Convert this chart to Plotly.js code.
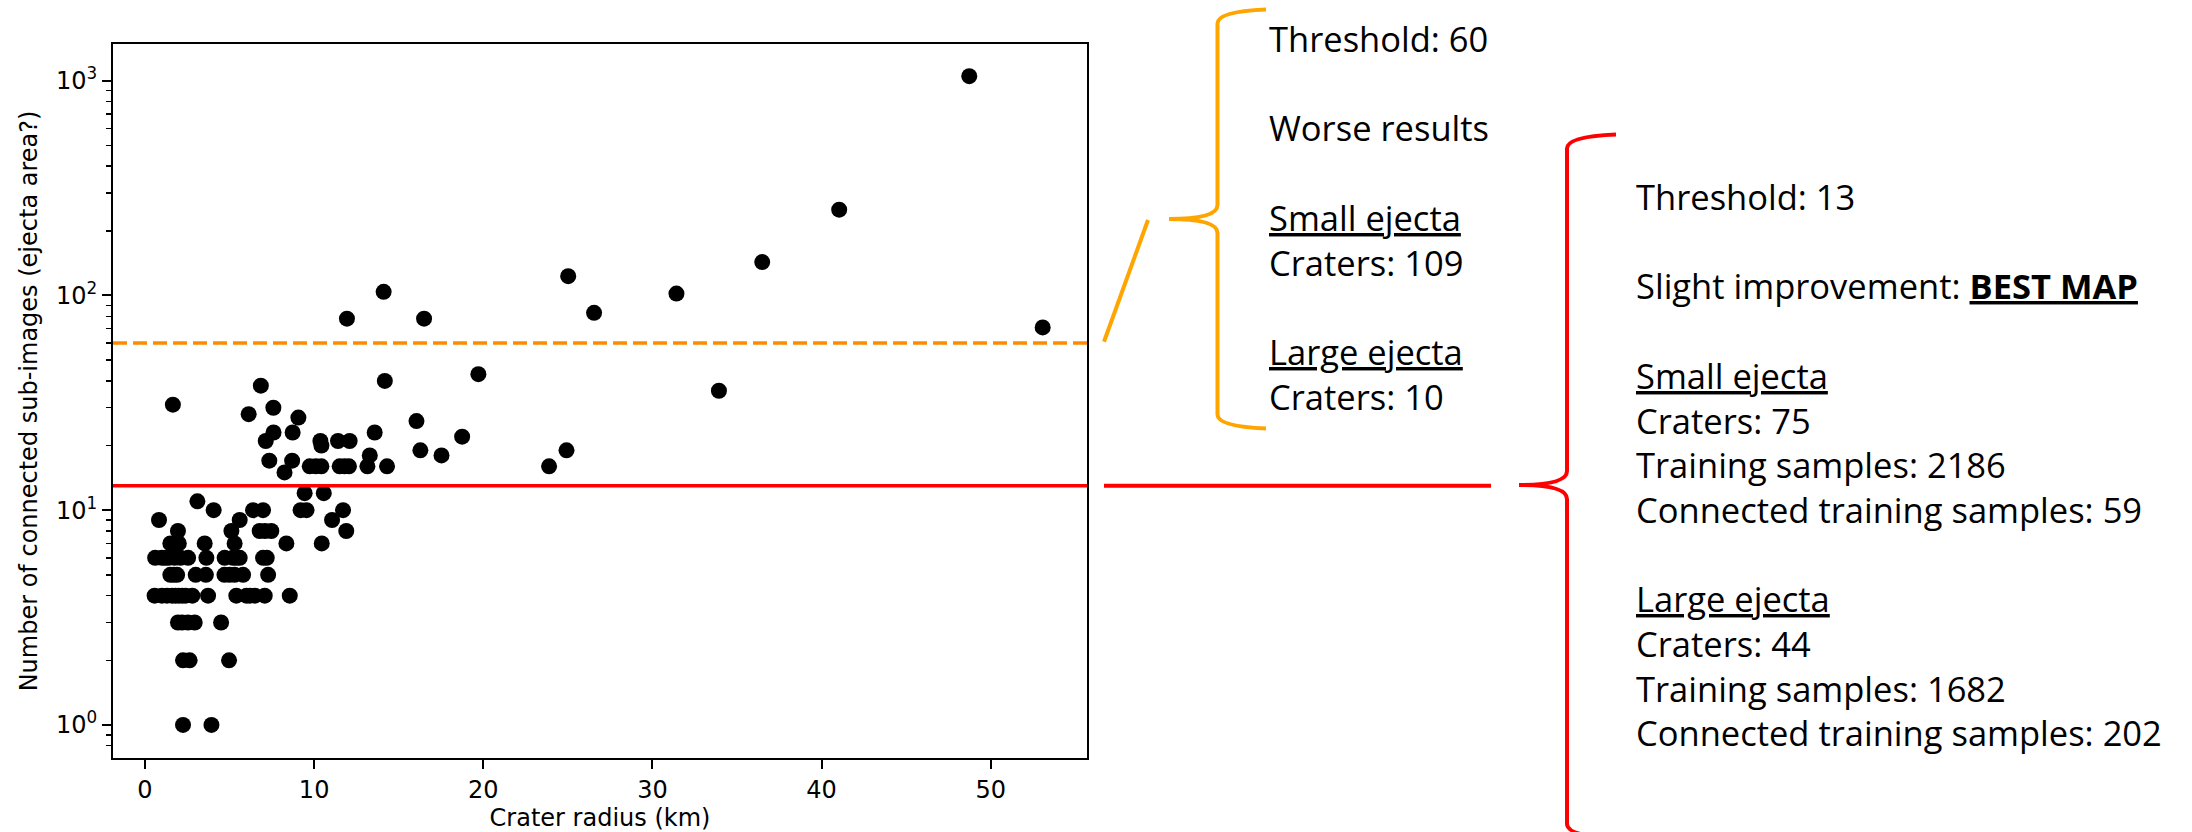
<!DOCTYPE html>
<html>
<head>
<meta charset="utf-8">
<script src="https://cdn.plot.ly/plotly-3.0.1.min.js"></script>
<style>
html,body{margin:0;padding:0;background:#ffffff;}
#chart{width:2192px;height:832px;}
</style>
</head>
<body>
<div id="chart"></div>
<script>
// ---------------- data ----------------
const radiusKm = [
  48.73, 41.04, 36.49, 31.42, 25.02, 26.55, 53.07, 11.94, 14.11, 16.5,
  1.65, 6.85, 6.13, 7.59, 9.07, 7.6, 8.73, 7.14, 7.35, 8.25, 8.7, 10.37, 10.43, 11.41, 12.1,
  9.74, 10.1, 10.43, 11.51, 11.8, 12.06, 13.15, 13.29, 13.58, 14.31, 14.18, 19.71, 16.05, 16.28,
  17.53, 18.75, 23.89, 24.92, 33.93,
  9.44, 10.57,
  3.1,
  4.06, 9.2, 9.55, 11.71, 6.39, 6.98,
  0.83, 5.6, 11.06,
  1.95, 5.11, 6.78, 7.47, 11.9, 7.1,
  1.5, 2.0, 1.75, 3.53, 5.3, 8.36, 10.45,
  0.6, 1.0, 1.2, 1.4, 1.76, 2.1, 2.55, 3.63, 4.71, 5.2, 5.4, 5.6, 6.98, 7.2,
  1.5, 1.7, 1.9, 3.0, 3.6, 4.7, 5.0, 5.3, 5.8, 7.28,
  0.57, 1.0, 1.3, 1.6, 1.8, 2.0, 2.2, 2.4, 2.8, 3.73, 5.4, 6.0, 6.2, 6.5, 7.08, 8.56,
  1.95, 2.2, 2.54, 2.94, 4.5,
  2.25, 2.64, 4.97,
  2.25, 3.93
];
const subImages = [
  1050, 251, 143, 102, 123, 83, 71, 78, 104, 78,
  31, 38, 28, 30, 27, 23, 23, 21, 17, 15, 17, 21, 20, 21, 21,
  16, 16, 16, 16, 16, 16, 16, 18, 23, 16, 40, 43, 26, 19,
  18, 22, 16, 19, 36,
  12, 12,
  11,
  10, 10, 10, 10, 10, 10,
  9, 9, 9,
  8, 8, 8, 8, 8, 8,
  7, 7, 7, 7, 7, 7, 7,
  6, 6, 6, 6, 6, 6, 6, 6, 6, 6, 6, 6, 6, 6,
  5, 5, 5, 5, 5, 5, 5, 5, 5, 5,
  4, 4, 4, 4, 4, 4, 4, 4, 4, 4, 4, 4, 4, 4, 4, 4,
  3, 3, 3, 3, 3,
  2, 2, 2,
  1, 1
];
const thresholdHigh = 60;   // orange dashed
const thresholdLow = 13;    // red solid

const xTickVals = [0, 10, 20, 30, 40, 50];
const yTickVals = [1, 10, 100, 1000];
const yTickText = ['10<sup>0</sup>', '10<sup>1</sup>', '10<sup>2</sup>', '10<sup>3</sup>'];
const yMinorVals = [0.8, 0.9, 2, 3, 4, 5, 6, 7, 8, 9, 20, 30, 40, 50, 60, 70, 80, 90,
                    200, 300, 400, 500, 600, 700, 800, 900];

const xTitle = 'Crater radius (km)';
const yTitle = 'Number of connected sub-images (ejecta area?)';

const orangeLines = [
  'Threshold: 60', '', 'Worse results', '',
  '<u>Small ejecta</u>', 'Craters: 109', '',
  '<u>Large ejecta</u>', 'Craters: 10'
];
const redLines = [
  'Threshold: 13', '', 'Slight improvement: <b><u>BEST MAP</u></b>', '',
  '<u>Small ejecta</u>', 'Craters: 75', 'Training samples: 2186', 'Connected training samples: 59', '',
  '<u>Large ejecta</u>', 'Craters: 44', 'Training samples: 1682', 'Connected training samples: 202'
];

// ---------------- layout geometry ----------------
const W = 2192, H = 832;
const M = {l: 113, r: W - 1087, t: 44, b: H - 758};
const PW = W - M.l - M.r, PH = H - M.t - M.b;
const px = X => (X - M.l) / PW;          // pixel -> paper x
const py = Y => (M.t + PH - Y) / PH;     // pixel -> paper y

const ORANGE = '#FFA500';
const RED = '#FF0000';

function pathFrom(pts) {
  return pts.map(p => p[0] + p.slice(1).reduce((s, v, i) => s + (i ? (i % 2 ? ',' : ' ') : '') + (i % 2 ? py(v) : px(v)), '')).join(' ');
}
function brace(xv, xEnd, yTop, yMid, yBot, xTip, r) {
  return pathFrom([
    ['M', xEnd, yTop],
    ['Q', xv, yTop + 2, xv, yTop + r],
    ['L', xv, yMid - r],
    ['Q', xv, yMid, xTip, yMid],
    ['Q', xv, yMid, xv, yMid + r],
    ['L', xv, yBot - r],
    ['Q', xv, yBot - 2, xEnd, yBot]
  ]);
}

const shapes = [
  {type: 'line', xref: 'paper', yref: 'y', x0: 0, x1: 1, y0: thresholdHigh, y1: thresholdHigh,
   line: {color: '#FF8C00', width: 3.5, dash: '14px,6px'}},
  {type: 'line', xref: 'paper', yref: 'y', x0: 0, x1: 1, y0: thresholdLow, y1: thresholdLow,
   line: {color: RED, width: 3.4}},
  {type: 'line', xref: 'paper', yref: 'y', x0: px(1104), x1: px(1491), y0: thresholdLow, y1: thresholdLow,
   line: {color: RED, width: 4}},
  {type: 'line', xref: 'paper', yref: 'paper', x0: px(1104), y0: py(341.7), x1: px(1148), y1: py(220),
   line: {color: ORANGE, width: 4}},
  {type: 'path', xref: 'paper', yref: 'paper', path: brace(1217.5, 1266, 9.5, 219, 428.5, 1169, 14),
   line: {color: ORANGE, width: 4}},
  {type: 'path', xref: 'paper', yref: 'paper', path: brace(1567, 1616, 134.5, 485, 838, 1519, 14),
   line: {color: RED, width: 4}}
];

const textFont = {family: '"Open Sans", Roboto, sans-serif', size: 34.5, color: '#000000'};
const annotations = [];
orangeLines.forEach((t, i) => {
  if (!t) return;
  annotations.push({xref: 'paper', yref: 'paper', x: px(1267), y: py(38.3 + i * 44.8),
    xanchor: 'left', yanchor: 'middle', showarrow: false, text: t, font: textFont, align: 'left'});
});
redLines.forEach((t, i) => {
  if (!t) return;
  annotations.push({xref: 'paper', yref: 'paper', x: px(1634), y: py(196.5 + i * 44.7),
    xanchor: 'left', yanchor: 'middle', showarrow: false, text: t, font: textFont, align: 'left'});
});

const axisFont = {family: '"DejaVu Sans", sans-serif', size: 24, color: '#000000'};

const trace = {
  type: 'scatter', mode: 'markers', x: radiusKm, y: subImages,
  marker: {color: '#000000', size: 16, line: {width: 0}},
  hoverinfo: 'x+y', cliponaxis: true
};

const layout = {
  width: W, height: H,
  margin: M,
  paper_bgcolor: '#ffffff', plot_bgcolor: '#ffffff',
  showlegend: false,
  xaxis: {
    range: [-1.89, 55.69], tickmode: 'array', tickvals: xTickVals,
    ticks: 'outside', ticklen: 9, tickwidth: 2, tickcolor: '#000',
    showline: true, linewidth: 2, linecolor: '#000', mirror: true,
    showgrid: false, zeroline: false, tickfont: axisFont,
    title: {text: xTitle, font: axisFont, standoff: 8}
  },
  yaxis: {
    type: 'log', range: [-0.154, 3.171], tickmode: 'array', tickvals: yTickVals, ticktext: yTickText,
    ticks: 'outside', ticklen: 9, tickwidth: 2, tickcolor: '#000',
    minor: {tickmode: 'array', tickvals: yMinorVals, ticks: 'outside', ticklen: 5, tickwidth: 1.5,
            tickcolor: '#000', showgrid: false},
    showline: true, linewidth: 2, linecolor: '#000', mirror: true,
    showgrid: false, zeroline: false, tickfont: axisFont,
    title: {text: yTitle, font: axisFont, standoff: 12}
  },
  shapes: shapes,
  annotations: annotations
};

Plotly.newPlot('chart', [trace], layout, {displayModeBar: false, staticPlot: true});
</script>
</body>
</html>
